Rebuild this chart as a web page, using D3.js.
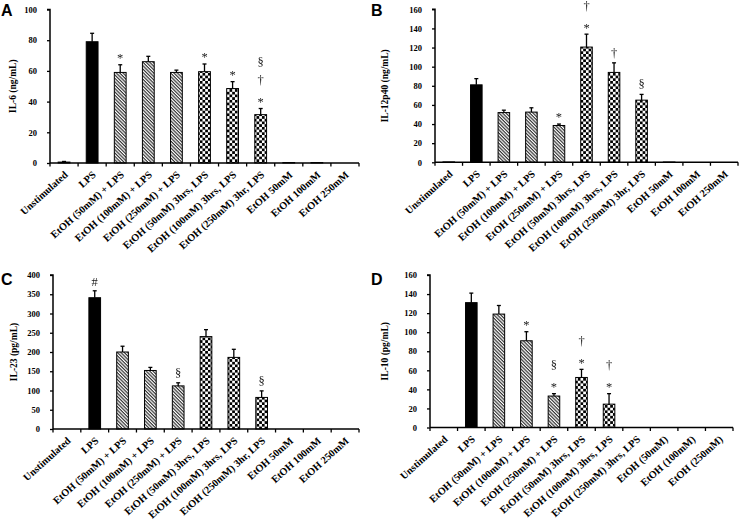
<!DOCTYPE html>
<html><head><meta charset="utf-8">
<script src="https://cdn.jsdelivr.net/npm/d3@7"></script>
<style>
body{margin:0;background:#fff;}
svg{display:block;}
</style></head>
<body>
<svg id="chart" width="741" height="525"></svg>
<script>
// ---------- DATA ----------
const categoriesABC = ["Unstimulated","LPS","EtOH (50mM) + LPS","EtOH (100mM) + LPS","EtOH (250mM) + LPS",
  "EtOH (50mM) 3hrs, LPS","EtOH (100mM) 3hrs, LPS","EtOH (250mM) 3hr, LPS","EtOH 50mM","EtOH 100mM","EtOH 250mM"];
const categoriesD = ["Unstimulated","LPS","EtOH (50mM) + LPS","EtOH (100mM) + LPS","EtOH (250mM) + LPS",
  "EtOH (50mM) 3hrs, LPS","EtOH (100mM) 3hrs, LPS","EtOH (250mM) 3hrs, LPS","EtOH (50mM)","EtOH (100mM)","EtOH (250mM)"];

const il6Values   = [0.6, 79, 59, 66, 59, 59.5, 48.5, 31.5, 0.3, 0.3, 0];
const il6Errors   = [0.4, 5.5, 5, 3.5, 1.5, 5, 4.5, 4, 0, 0, 0];
const il6Marks    = [[],[],["*"],[],[],["*"],["*"],["*","†","§"],[],[],[]];

const il12Values  = [0.4, 81, 52, 52.5, 38.5, 120.5, 94, 65, 0.3, 0, 0];
const il12Errors  = [0, 6.5, 2.5, 4.5, 1.5, 13.5, 10, 6, 0, 0, 0];
const il12Marks   = [[],[],[],[],["*"],["*","†"],["†"],["§"],[],[],[]];

const il23Values  = [0, 341, 200, 152, 112, 240, 186, 82, 0, 0, 0];
const il23Errors  = [0, 18, 15, 8, 8, 18, 21, 17, 0, 0, 0];
const il23Marks   = [[],["#"],[],[],["§"],[],[],["§"],[],[],[]];

const il10Values  = [0, 131, 119, 91, 33, 52.5, 24.5, 0, 0, 0, 0];
const il10Errors  = [0, 10, 9, 9.5, 2.5, 8.5, 11, 0, 0, 0, 0];
const il10Marks   = [[],[],[],["*"],["*","§"],["*","†"],["*","†"],[],[],[],[]];

const yTicksA = [0,20,40,60,80,100];
const yTicksB = [0,20,40,60,80,100,120,140,160];
const yTicksC = [0,50,100,150,200,250,300,350,400];
const yTicksD = [0,20,40,60,80,100,120,140,160];

// ---------- DRAW ----------
const svg = d3.select("#chart");
const defs = svg.append("defs");

const flat = defs.append("filter").attr("id","flat").attr("x","-20%").attr("y","-20%").attr("width","140%").attr("height","140%");
flat.append("feOffset").attr("dx",0).attr("dy",0);

const hatch = defs.append("pattern").attr("id","hatch").attr("patternUnits","userSpaceOnUse")
  .attr("width",2.4).attr("height",2.4).attr("patternTransform","rotate(45)");
hatch.append("rect").attr("width",2.4).attr("height",2.4).attr("fill","#fff");
hatch.append("rect").attr("width",2.4).attr("height",1.2).attr("fill","#333");

const check = defs.append("pattern").attr("id","check").attr("patternUnits","userSpaceOnUse")
  .attr("width",5.4).attr("height",5.4);
check.append("rect").attr("width",5.4).attr("height",5.4).attr("fill","#fff");
check.append("rect").attr("width",2.7).attr("height",2.7).attr("fill","#000");
check.append("rect").attr("x",2.7).attr("y",2.7).attr("width",2.7).attr("height",2.7).attr("fill","#000");

const fillKind = i => i === 1 ? "#000" : (i>=2 && i<=4) ? "url(#hatch)" : (i>=5 && i<=7) ? "url(#check)" : "#000";

const serif = "'Liberation Serif','Times New Roman',serif";
const glyphCenter = {"*":0.55,"†":0.28,"§":0.28,"#":0.36};

function panel(cfg){
  const g = svg.append("g");
  const x = d3.scaleBand().domain(d3.range(cfg.cats.length)).range([cfg.x0,cfg.x1]).paddingInner(0).paddingOuter(0);
  const y = d3.scaleLinear().domain([0,cfg.max]).range([cfg.yb,cfg.yt]);
  const bw = x.bandwidth()*0.42;
  const marksG = svg.append("g").attr("filter","url(#flat)");

  // bars
  cfg.values.forEach((v,i)=>{
    const cx = x(i)+x.bandwidth()/2;
    if (v > 0) {
      g.append("rect").attr("x",cx-bw/2).attr("y",y(v)).attr("width",bw).attr("height",y(0)-y(v))
        .attr("fill",fillKind(i)).attr("stroke","#000").attr("stroke-width",1);
    }
    const e = cfg.errors[i];
    if (e > 0) {
      g.append("line").attr("x1",cx).attr("x2",cx).attr("y1",y(v)).attr("y2",y(v+e)).attr("stroke","#000").attr("stroke-width",1.3);
      g.append("line").attr("x1",cx-2).attr("x2",cx+2).attr("y1",y(v+e)).attr("y2",y(v+e)).attr("stroke","#000").attr("stroke-width",1.3);
    }
    const top = y(v+e);
    cfg.marks[i].forEach((m,k)=>{
      const c = top - 9.5 - 18.5*k;
      const fs = 12.5;
      marksG.append("text").attr("x",cx).attr("y",c + glyphCenter[m]*fs).attr("text-anchor","middle")
        .attr("font-family",serif).attr("font-size",fs).attr("fill","#1a1a1a").text(m);
    });
  });

  // y axis
  const ya = g.append("g").attr("transform",`translate(${cfg.x0},0)`)
    .call(d3.axisLeft(y).tickValues(cfg.ticks).tickSize(3).tickPadding(10).tickFormat(d3.format("d")));
  ya.select(".domain").attr("stroke-width",1.5).attr("d",`M-3,${y(cfg.max)}H0V${y(0)}`);
  ya.selectAll(".tick line").attr("stroke-width",1.3);
  ya.selectAll("text").attr("font-family",serif).attr("font-weight","bold").attr("font-size",8.5);

  // x axis
  g.append("line").attr("x1",cfg.x0).attr("x2",cfg.x1).attr("y1",y(0)).attr("y2",y(0)).attr("stroke","#000").attr("stroke-width",1.5);
  d3.range(cfg.cats.length+1).forEach(i=>{
    const xx = cfg.x0 + i*x.bandwidth();
    g.append("line").attr("x1",xx).attr("x2",xx).attr("y1",y(0)).attr("y2",y(0)+3.5).attr("stroke","#000").attr("stroke-width",1.3);
  });
  cfg.cats.forEach((c,i)=>{
    const cx = x(i)+x.bandwidth()/2;
    g.append("text").attr("transform",`translate(${cx+2},${y(0)+10}) rotate(-42)`)
      .attr("text-anchor","end").attr("dy","0.35em")
      .attr("font-family",serif).attr("font-weight","bold").attr("font-size",10.3).attr("fill","#000").text(c);
  });

  // y title
  g.append("text").attr("transform",`translate(${cfg.tx},${(cfg.yt+cfg.yb)/2}) rotate(-90)`)
    .attr("text-anchor","middle").attr("dy","0.35em")
    .attr("font-family",serif).attr("font-weight","bold").attr("font-size",9.5).text(cfg.title);

  // panel letter
  g.append("text").attr("x",cfg.lx).attr("y",cfg.ly).attr("font-family","'Liberation Sans',Arial,sans-serif")
    .attr("font-weight","bold").attr("font-size",16).text(cfg.letter);
}

panel({cats:categoriesABC, values:il6Values, errors:il6Errors, marks:il6Marks, ticks:yTicksA, max:100,
  x0:50, x1:359, yb:163, yt:9.5, title:"IL-6 (ng/mL)", tx:13, letter:"A", lx:1, ly:16});
panel({cats:categoriesABC, values:il12Values, errors:il12Errors, marks:il12Marks, ticks:yTicksB, max:160,
  x0:435, x1:738, yb:162.3, yt:9.3, title:"IL-12p40 (ng/mL)", tx:385, letter:"B", lx:371, ly:16});
panel({cats:categoriesABC, values:il23Values, errors:il23Errors, marks:il23Marks, ticks:yTicksC, max:400,
  x0:53, x1:359, yb:429, yt:275, title:"IL-23 (pg/mL)", tx:14, letter:"C", lx:1, ly:285});
panel({cats:categoriesD, values:il10Values, errors:il10Errors, marks:il10Marks, ticks:yTicksD, max:160,
  x0:430, x1:733, yb:427.5, yt:275, title:"IL-10 (pg/mL)", tx:385, letter:"D", lx:371, ly:285});
</script>
</body></html>
